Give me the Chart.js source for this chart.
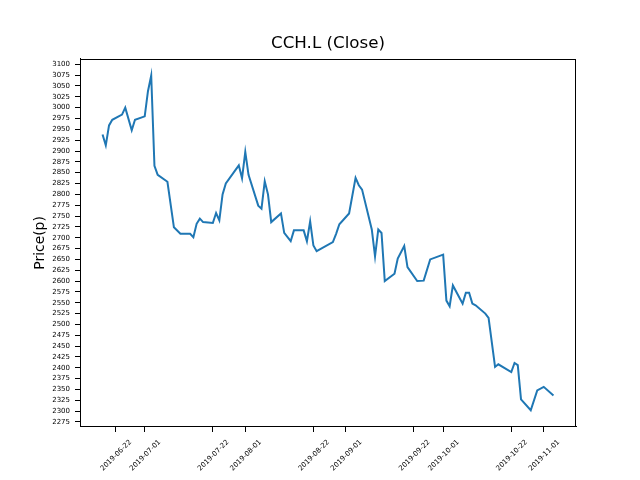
<!DOCTYPE html>
<html>
<head>
<meta charset="utf-8">
<script src="https://cdn.jsdelivr.net/npm/chart.js@4/dist/chart.umd.min.js"></script>
<style>
  body { margin: 0; background: #fff; }
</style>
</head>
<body>
<canvas id="closeChart" width="640" height="480"></canvas>
<script>
// closing prices (only the visible corners of the line)
const dates = [
  '2019-06-18', '2019-06-19', '2019-06-20', '2019-06-21', '2019-06-24', '2019-06-25', '2019-06-27', '2019-06-28',
  '2019-07-01', '2019-07-02', '2019-07-03', '2019-07-04', '2019-07-05', '2019-07-08', '2019-07-10', '2019-07-12',
  '2019-07-15', '2019-07-16', '2019-07-17', '2019-07-18', '2019-07-19', '2019-07-22', '2019-07-23', '2019-07-24',
  '2019-07-25', '2019-07-26', '2019-07-30', '2019-07-31', '2019-08-01', '2019-08-02', '2019-08-05', '2019-08-06',
  '2019-08-07', '2019-08-08', '2019-08-09', '2019-08-12', '2019-08-13', '2019-08-15', '2019-08-16', '2019-08-19',
  '2019-08-20', '2019-08-21', '2019-08-22', '2019-08-23', '2019-08-28', '2019-08-29', '2019-08-30', '2019-09-02',
  '2019-09-04', '2019-09-05', '2019-09-06', '2019-09-09', '2019-09-10', '2019-09-11', '2019-09-12', '2019-09-13',
  '2019-09-16', '2019-09-17', '2019-09-19', '2019-09-20', '2019-09-23', '2019-09-25', '2019-09-27', '2019-10-01',
  '2019-10-02', '2019-10-03', '2019-10-04', '2019-10-07', '2019-10-08', '2019-10-09', '2019-10-10', '2019-10-11',
  '2019-10-14', '2019-10-15', '2019-10-17', '2019-10-18', '2019-10-22', '2019-10-23', '2019-10-24', '2019-10-25',
  '2019-10-28', '2019-10-30', '2019-11-01', '2019-11-04'
];
const closes = [
  2938, 2913, 2959, 2972, 2984, 3000, 2948, 2972,
  2980, 3038, 3074, 2866, 2845, 2829, 2724, 2709,
  2709, 2701, 2732, 2744, 2736, 2734, 2757, 2740,
  2800, 2825, 2867, 2837, 2898, 2845, 2774, 2767,
  2830, 2800, 2736, 2756, 2711, 2692, 2717, 2717,
  2692, 2738, 2682, 2669, 2690, 2709, 2731, 2756,
  2838, 2821, 2811, 2719, 2657, 2719, 2711, 2600,
  2617, 2652, 2681, 2632, 2600, 2601, 2650, 2661,
  2555, 2542, 2590, 2548, 2573, 2573, 2548, 2544,
  2525, 2515, 2402, 2408, 2390, 2411, 2406, 2327,
  2302, 2348, 2356, 2336
];

// tick labels
const xTickLabels = [
  '2019-06-22', '2019-07-01', '2019-07-22', '2019-08-01', '2019-08-22',
  '2019-09-01', '2019-09-22', '2019-10-01', '2019-10-22', '2019-11-01'
];
const yTickLabels = [
  2275, 2300, 2325, 2350, 2375, 2400, 2425, 2450, 2475, 2500, 2525, 2550,
  2575, 2600, 2625, 2650, 2675, 2700, 2725, 2750, 2775, 2800, 2825, 2850,
  2875, 2900, 2925, 2950, 2975, 3000, 3025, 3050, 3075, 3100
];

function dayNum(s) {
  var p = s.split('-');
  return Date.UTC(+p[0], +p[1] - 1, +p[2]) / 86400000;
}

const points = dates.map((d, i) => ({ x: dayNum(d), y: closes[i] }));

// matplotlib style 5% margins
var xs = points.map(p => p.x);
var xMin = Math.min(...xs), xMax = Math.max(...xs);
var xPad = (xMax - xMin) * 0.05;
var yMin = Math.min(...closes), yMax = Math.max(...closes);
var yPad = (yMax - yMin) * 0.05;

const FONT = "'DejaVu Sans', sans-serif";

// top and right spines
const frame = {
  id: 'frame',
  afterDraw(chart) {
    const a = chart.chartArea;
    const ctx = chart.ctx;
    ctx.save();
    ctx.strokeStyle = '#000';
    ctx.lineWidth = 1;
    ctx.strokeRect(Math.round(a.left) + 0.5, Math.round(a.top) + 0.5,
      Math.round(a.right - a.left) - 1, Math.round(a.bottom - a.top) - 1);
    ctx.restore();
  }
};

const ctx = document.getElementById('closeChart').getContext('2d');
new Chart(ctx, {
  type: 'line',
  data: {
    datasets: [{
      label: 'Close',
      data: points,
      borderColor: '#1f77b4',
      borderWidth: 2,
      pointRadius: 0,
      tension: 0,
      fill: false
    }]
  },
  options: {
    responsive: false,
    animation: false,
    layout: { padding: { left: 0, right: 64, top: 0, bottom: 0 } },
    plugins: {
      legend: { display: false },
      tooltip: { enabled: false },
      title: {
        display: true,
        text: 'CCH.L (Close)',
        fullSize: false,
        color: '#000',
        font: { family: FONT, size: 16.7, weight: 'normal' },
        padding: { top: 34, bottom: 4.8 }
      }
    },
    scales: {
      x: {
        type: 'linear',
        min: xMin - xPad,
        max: xMax + xPad,
        afterBuildTicks: scale => {
          scale.ticks = xTickLabels.map(s => ({ value: dayNum(s) }));
        },
        afterFit: scale => { scale.height = 53; },
        grid: { drawOnChartArea: false, drawTicks: true, tickLength: 5, tickColor: '#000' },
        border: { display: true, color: '#000', width: 1 },
        ticks: {
          autoSkip: false,
          maxRotation: 45,
          minRotation: 45,
          padding: 6,
          labelOffset: 15,
          color: '#000',
          font: { family: FONT, size: 7 },
          callback: (value, index) => xTickLabels[index]
        }
      },
      y: {
        min: yMin - yPad,
        max: yMax + yPad,
        afterBuildTicks: scale => {
          scale.ticks = yTickLabels.map(v => ({ value: v }));
        },
        afterFit: scale => { scale.width = 80; },
        grid: { drawOnChartArea: false, drawTicks: true, tickLength: 5, tickColor: '#000' },
        border: { display: true, color: '#000', width: 1 },
        ticks: {
          autoSkip: false,
          padding: 5,
          color: '#000',
          font: { family: FONT, size: 7 },
          callback: value => String(value)
        },
        title: {
          display: true,
          text: 'Price(p)',
          color: '#000',
          font: { family: FONT, size: 13.9 },
          padding: { top: 31.7, bottom: 0 }
        }
      }
    }
  },
  plugins: [frame]
});
</script>
</body>
</html>
